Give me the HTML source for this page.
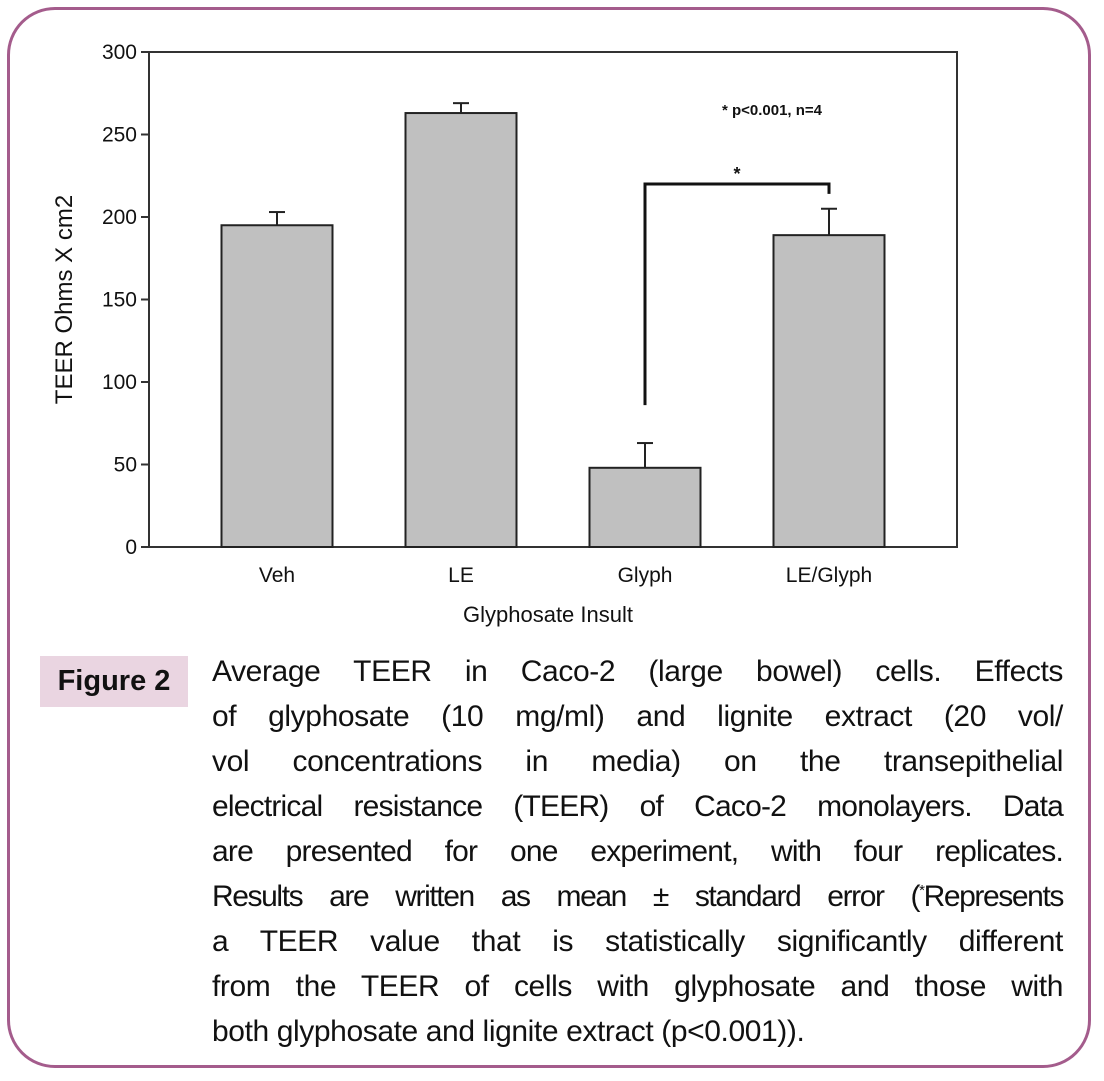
<!DOCTYPE html>
<html><head><meta charset="utf-8"><style>
body{margin:0;width:1104px;height:1081px;background:#fff;position:relative;overflow:hidden;font-family:"Liberation Sans",sans-serif}
#frame{position:absolute;left:7px;top:7px;width:1084px;height:1061px;border:3px solid #a45c8c;border-radius:48px;box-sizing:border-box}
#fig{position:absolute;left:40px;top:656px;width:148px;height:51px;background:#ead5e1;font-weight:bold;font-size:29px;line-height:51px;text-align:center;color:#111}
#cap{position:absolute;left:212px;top:652px;width:851px;font-size:30px;color:#111;letter-spacing:-0.4px}
#cap div{height:45px;line-height:40px;text-align:justify;text-align-last:justify;white-space:nowrap;overflow:visible}
#cap div.last{text-align-last:left}
sup{line-height:0;font-size:15px}
</style></head><body>
<div id="frame"></div>
<svg id="chart" width="1104" height="650" style="position:absolute;left:0;top:0" font-family="Liberation Sans, sans-serif"></svg>
<div id="fig">Figure 2</div>
<div id="cap">
<div>Average TEER in Caco-2 (large bowel) cells. Effects</div>
<div>of glyphosate (10 mg/ml) and lignite extract (20 vol/</div>
<div>vol concentrations in media) on the transepithelial</div>
<div style="letter-spacing:-0.8px">electrical resistance (TEER) of Caco-2 monolayers. Data</div>
<div style="letter-spacing:-0.8px">are presented for one experiment, with four replicates.</div>
<div style="letter-spacing:-1.4px">Results are written as mean ± standard error (<sup>*</sup>Represents</div>
<div>a TEER value that is statistically significantly different</div>
<div>from the TEER of cells with glyphosate and those with</div>
<div class="last">both glyphosate and lignite extract (p&lt;0.001)).</div>
</div>
<script>
const categories=["Veh","LE","Glyph","LE/Glyph"];
const means=[195,263,48,189];
const errors=[8,6,15,16];
const yTicks=[0,50,100,150,200,250,300];
const NS="http://www.w3.org/2000/svg";
const svg=document.getElementById('chart');
const L=149,R=957,T=52,B=547,yMax=300;
const y=v=>B-(v/yMax)*(B-T);
const band=184;
const xc=i=>L+128+band*i;
const bw=111;
function mk(tag,a){const e=document.createElementNS(NS,tag);for(const k in a)e.setAttribute(k,a[k]);svg.appendChild(e);return e;}
let e=mk('rect',{x:L,y:T,width:R-L,height:B-T,fill:'none',stroke:'#333','stroke-width':2});


yTicks.forEach(t=>{
 let l=mk('line',{x1:L-8,x2:L,y1:y(t),y2:y(t),stroke:'#333','stroke-width':2});
 
 
 let tx=mk('text',{x:L-12,y:y(t)+7,'text-anchor':'end','font-size':21,fill:'#111'});tx.textContent=t;
 
 
});
categories.forEach((c,i)=>{
 const cx=xc(i);
 let ey=y(means[i]+errors[i]);
 let el=mk('line',{x1:cx,x2:cx,y1:ey,y2:y(means[i]),stroke:'#222','stroke-width':2});
 
 
 let ec=mk('line',{x1:cx-8,x2:cx+8,y1:ey,y2:ey,stroke:'#222','stroke-width':2});
 
 
 let r=mk('rect',{x:cx-bw/2,y:y(means[i]),width:bw,height:B-y(means[i]),fill:'#c0c0c0',stroke:'#222','stroke-width':2});
 
 
 let t=mk('text',{x:cx,y:582,'text-anchor':'middle','font-size':21,fill:'#111'});t.textContent=c;
 
 
});
let br=mk('polyline',{points:`${xc(2)},${y(86)} ${xc(2)},${y(220)} ${xc(3)},${y(220)} ${xc(3)},${y(214)}`,fill:'none',stroke:'#111','stroke-width':3});


let st=mk('text',{x:(xc(2)+xc(3))/2,y:y(220)-4,'text-anchor':'middle','font-size':18,'font-weight':'bold',fill:'#111'});st.textContent='*';


let an=mk('text',{x:772,y:115,'text-anchor':'middle','font-size':15,'font-weight':'bold',fill:'#111'});an.textContent='* p<0.001, n=4';


let xt=mk('text',{x:548,y:622,'text-anchor':'middle','font-size':22,fill:'#111'});xt.textContent='Glyphosate Insult';


let yt=mk('text',{x:0,y:0,'text-anchor':'middle','font-size':24,fill:'#111',transform:`translate(72,${(T+B)/2}) rotate(-90)`});yt.textContent='TEER Ohms X cm2';


</script>
</body></html>
